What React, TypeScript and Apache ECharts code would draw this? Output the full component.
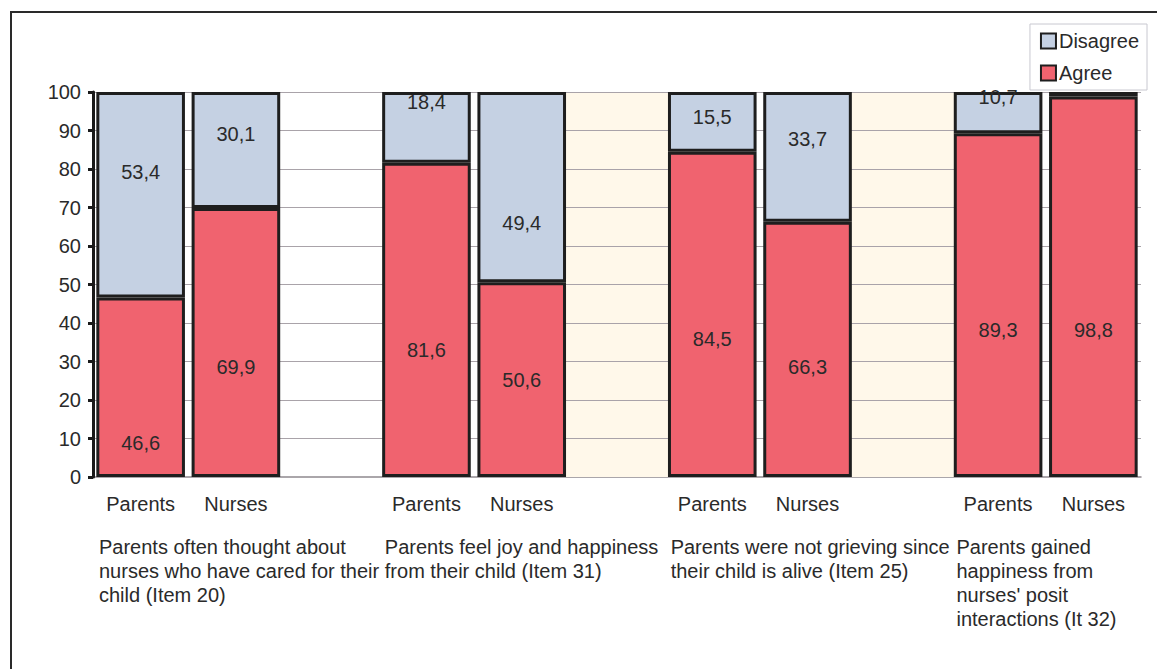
import React, { useEffect, useRef } from "react";
import * as echarts from "echarts";

const categories = ["Parents", "Nurses", "", "Parents", "Nurses", "", "Parents", "Nurses", "", "Parents", "Nurses"];
const agree = [46.6, 69.9, null, 81.6, 50.6, null, 84.5, 66.3, null, 89.3, 98.8];
const disagree = [53.4, 30.1, null, 18.4, 49.4, null, 15.5, 33.7, null, 10.7, 1.2];
// value on the y scale where each printed label sits in the picture
const agreeLabelAt = [8.8, 28.6, null, 33.0, 25.2, null, 35.8, 28.6, null, 38.2, 38.2];
const disagreeLabelAt = [79.2, 89.1, null, 97.4, 66.0, null, 93.5, 87.8, null, 98.7, null];
// gap slots that have a cream background in the picture
const creamGaps = [5, 8];
const groupStarts = [0, 3, 6, 9];
const groupLabels = [
  "Parents often thought about\nnurses who have cared for their\nchild (Item 20)",
  "Parents feel joy and happiness\nfrom their child (Item 31)",
  "Parents were not grieving since\ntheir child is alive (Item 25)",
  "Parents gained\nhappiness from\nnurses' posit\ninteractions (It 32)",
];
const yMin = 0;
const yMax = 100;
const yInterval = 10;
const gridValues = [10, 20, 30, 40, 50, 60, 70, 80, 90, 100];

const FONT = "'Liberation Sans', Arial, sans-serif";
const TEXT = "#2a2a2a";
const FS = 20;
const fmt = (v: number) => String(v).replace(".", ",");

export default function App() {
  const ref = useRef<HTMLDivElement>(null);
  useEffect(() => {
    if (!ref.current) return;
    const chart = echarts.init(ref.current, null, { renderer: "svg" });
    const labelBase = {
      show: true,
      color: TEXT,
      fontFamily: FONT,
      fontSize: FS,
      align: "center",
      verticalAlign: "middle",
      formatter: (p: any) => fmt(p.value),
    };
    const agreeData = agree.map((v, i) => {
      if (v == null) return "-";
      const at = agreeLabelAt[i];
      const pct = at == null ? 50 : ((v - at) / v) * 100;
      return { value: v, label: { position: ["50%", pct.toFixed(1) + "%"] } };
    });
    const disagreeData = disagree.map((v, i) => {
      if (v == null) return "-";
      const base = agree[i] as number;
      const at = disagreeLabelAt[i];
      if (at == null) return { value: v, label: { show: false } };
      const pct = ((yMax - at) / (yMax - base)) * 100;
      return { value: v, label: { position: ["50%", pct.toFixed(1) + "%"] } };
    });
    chart.setOption({
      animation: false,
      backgroundColor: "#ffffff",
      textStyle: { fontFamily: FONT },
      grid: { left: 93, right: 16, top: 92, bottom: 192, containLabel: false },
      legend: {
        data: ["Disagree", "Agree"],
        orient: "vertical",
        right: 10,
        top: 24,
        z: 12,
        padding: [7, 8, 7, 10],
        itemGap: 12,
        itemWidth: 15,
        itemHeight: 15,
        borderColor: "#c8c8d0",
        borderWidth: 1,
        backgroundColor: "#ffffff",
        textStyle: { fontFamily: FONT, fontSize: FS, color: TEXT, padding: [0, 0, 0, -2] },
        icon: "rect",
      },
      xAxis: {
        type: "category",
        data: categories,
        axisLine: { show: true, lineStyle: { color: "#8e888e", width: 1.5 } },
        axisTick: { show: false },
        axisLabel: { color: TEXT, fontFamily: FONT, fontSize: FS, margin: 17, interval: 0 },
        splitArea: { show: false },
      },
      yAxis: {
        type: "value",
        z: 11,
        min: yMin,
        max: yMax,
        interval: yInterval,
        axisLine: { show: true, lineStyle: { color: "#1a1a1a", width: 3 } },
        axisTick: { show: true, length: 5, lineStyle: { color: "#1a1a1a", width: 3 } },
        axisLabel: { color: TEXT, fontFamily: FONT, fontSize: FS, margin: 12 },
        splitLine: { show: false },
      },
      series: [
        {
          name: "bands",
          type: "line",
          silent: true,
          data: categories.map(() => "-"),
          markArea: {
            silent: true,
            itemStyle: { color: "#FFF8EA" },
            data: creamGaps.map((g) => [{ xAxis: g - 1 }, { xAxis: g + 1 }]),
          },
        },
        {
          name: "gridlines",
          type: "line",
          silent: true,
          data: categories.map(() => "-"),
          markLine: {
            silent: true,
            symbol: "none",
            label: { show: false },
            lineStyle: { color: "#a9a3a9", width: 1.2, type: "solid" },
            data: gridValues.map((v) => ({ yAxis: v })),
          },
        },
        {
          name: "Agree",
          type: "bar",
          stack: "total",
          z: 10,
          barCategoryGap: "7%",
          itemStyle: { color: "#F0636F", borderColor: "#1e1e1e", borderWidth: 3 },
          label: labelBase,
          data: agreeData,
        },
        {
          name: "Disagree",
          type: "bar",
          stack: "total",
          z: 10,
          barCategoryGap: "7%",
          itemStyle: { color: "#C5D1E3", borderColor: "#1e1e1e", borderWidth: 3 },
          label: labelBase,
          data: disagreeData,
        },
      ],
    });
    const x0 = chart.convertToPixel({ xAxisIndex: 0 }, 0) as number;
    const x1 = chart.convertToPixel({ xAxisIndex: 0 }, 1) as number;
    const slot = x1 - x0;
    const groupTexts = groupStarts.map((idx, g) => ({
      type: "text",
      left: (chart.convertToPixel({ xAxisIndex: 0 }, idx) as number) - slot / 2 + 6,
      top: 535,
      style: {
        text: groupLabels[g],
        fill: TEXT,
        font: `${FS}px ${FONT}`,
        lineHeight: 24,
      },
    }));
    chart.setOption({
      graphic: [
        { type: "line", shape: { x1: 10, y1: 12, x2: 1157, y2: 12 }, style: { stroke: "#2a2a2a", lineWidth: 2 } },
        { type: "line", shape: { x1: 11, y1: 12, x2: 11, y2: 669 }, style: { stroke: "#2a2a2a", lineWidth: 2 } },
        ...groupTexts,
      ],
    });
    return () => chart.dispose();
  }, []);
  return (
    <div
      ref={ref}
      style={{ position: "absolute", left: 0, top: 0, width: 1157, height: 669, background: "#fff" }}
    />
  );
}
